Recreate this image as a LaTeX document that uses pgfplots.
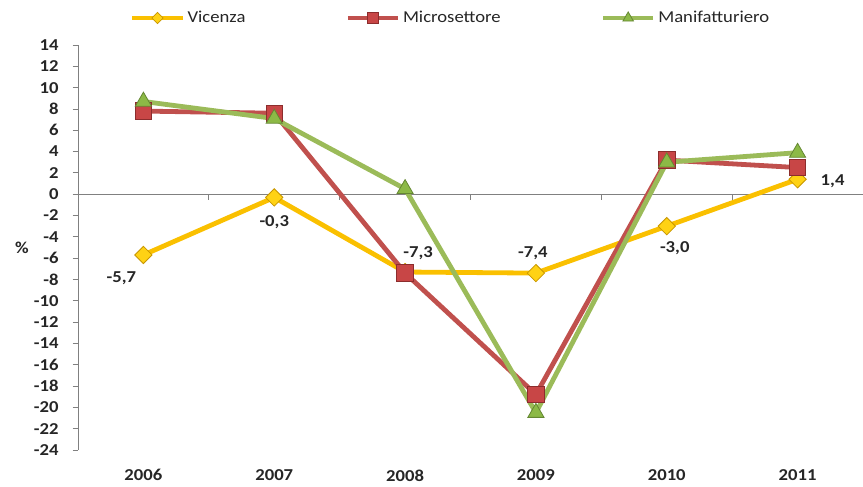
\documentclass[border=0pt]{standalone}
\usepackage{fontspec}
\setmainfont{Carlito}[FakeStretch=1.12]
\usepackage{pgfplots}
\pgfplotsset{compat=1.18}
\definecolor{vicL}{RGB}{250,192,0}
\definecolor{vicF}{RGB}{255,210,20}
\definecolor{vicD}{RGB}{200,150,0}
\definecolor{micL}{RGB}{192,80,77}
\definecolor{micF}{RGB}{200,70,70}
\definecolor{micD}{RGB}{140,45,45}
\definecolor{manL}{RGB}{155,187,89}
\definecolor{manF}{RGB}{140,185,70}
\definecolor{manD}{RGB}{100,135,50}
\begin{document}
\begin{tikzpicture}[x=0.75pt,y=0.75pt]
\path[use as bounding box] (-78,-36) rectangle (785,450);
\begin{axis}[
  scale only axis,
  width=588.75pt, height=303.75pt,
  anchor=south west, at={(0,0)},
  xmin=-0.5, xmax=5.5, ymin=-24, ymax=14,
  axis lines*=left,
  x axis line style={draw=none},
  y axis line style={draw=gray, line width=0.6pt},
  xtick={0,1,2,3,4,5},
  xticklabels={2006,2007,2008,2009,2010,2011},
  major x tick style={draw=none},
  ytick={-24,-22,...,14},
  yticklabels={-24,-22,-20,-18,-16,-14,-12,-10,-8,-6,-4,-2,0,2,4,6,8,10,12,14},
  tick align=outside,
  major tick length=4pt,
  major y tick style={draw=gray, line width=0.6pt},
  tick label style={font=\fontsize{12.5}{14}\selectfont\bfseries, text=black!85},
  yticklabel style={xshift=-7pt},
  xticklabel style={inner sep=0.5pt, yshift=-10pt},
  clip=false,
  legend columns=3,
  legend style={draw=none, fill=none, at={(0.066,1.0667)}, anchor=west,
    font=\fontsize{12.5}{14}\selectfont, inner sep=0pt,
    nodes={inner sep=2pt, text=black!85},
    /tikz/every even column/.append style={column sep=73pt}},
  legend image code/.code={\draw[#1, every mark/.append style={scale=0.65}, mark repeat=2, mark phase=2] plot coordinates {(0cm,0cm) (0.66cm,0cm) (1.32cm,0cm)};},
]
\draw[gray, line width=0.6pt] (axis cs:-0.5,0) -- (axis cs:5.5,0);
\pgfplotsinvokeforeach{0.5,1.5,2.5,3.5,4.5,5.5}{
  \draw[gray, line width=0.6pt] (axis cs:#1,0) -- ([yshift=-4pt]axis cs:#1,0);
}
\addplot[vicL, line width=3.6pt, mark=square*, mark size=4.6pt,
  mark options={rotate=45, fill=vicF, draw=vicD, line width=0.6pt},
  nodes near coords, point meta=explicit symbolic,
  visualization depends on={\thisrow{dx} \as \myDX},
  visualization depends on={\thisrow{dy} \as \myDY},
  nodes near coords style={anchor=center, xshift={\myDX*0.75pt}, yshift={\myDY*0.75pt},
    font=\fontsize{12.5}{14}\selectfont\bfseries, text=black!85}]
  table[x=x, y=y, meta=lbl] {
x y lbl dx dy
0 -5.7 {-5,7} -22 -23
1 -0.3 {-0,3} 0 -25
2 -7.3 {-7,3} 13 19
3 -7.4 {-7,4} -3 20
4 -3.0 {-3,0} 8 -22
5 1.4 {1,4} 35 -2
};
\addlegendentry{Vicenza}
\addplot[micL, line width=3.6pt, mark=square*, mark size=6.2pt,
  mark options={fill=micF, draw=micD, line width=0.6pt}]
  coordinates {(0,7.8) (1,7.6) (2,-7.4) (3,-18.8) (4,3.2) (5,2.5)};
\addlegendentry{Microsettore}
\addplot[manL, line width=3.6pt, mark=triangle*, mark size=7pt,
  mark options={fill=manF, draw=manD, line width=0.6pt}]
  coordinates {(0,8.7) (1,7.1) (2,0.5) (3,-20.5) (4,3.0) (5,3.9)};
\addlegendentry{Manifatturiero}
\node[font=\fontsize{12.5}{14}\selectfont\bfseries, text=black!85] at (rel axis cs:-0.0713,0.499) {\%};
\end{axis}
\end{tikzpicture}
\end{document}
